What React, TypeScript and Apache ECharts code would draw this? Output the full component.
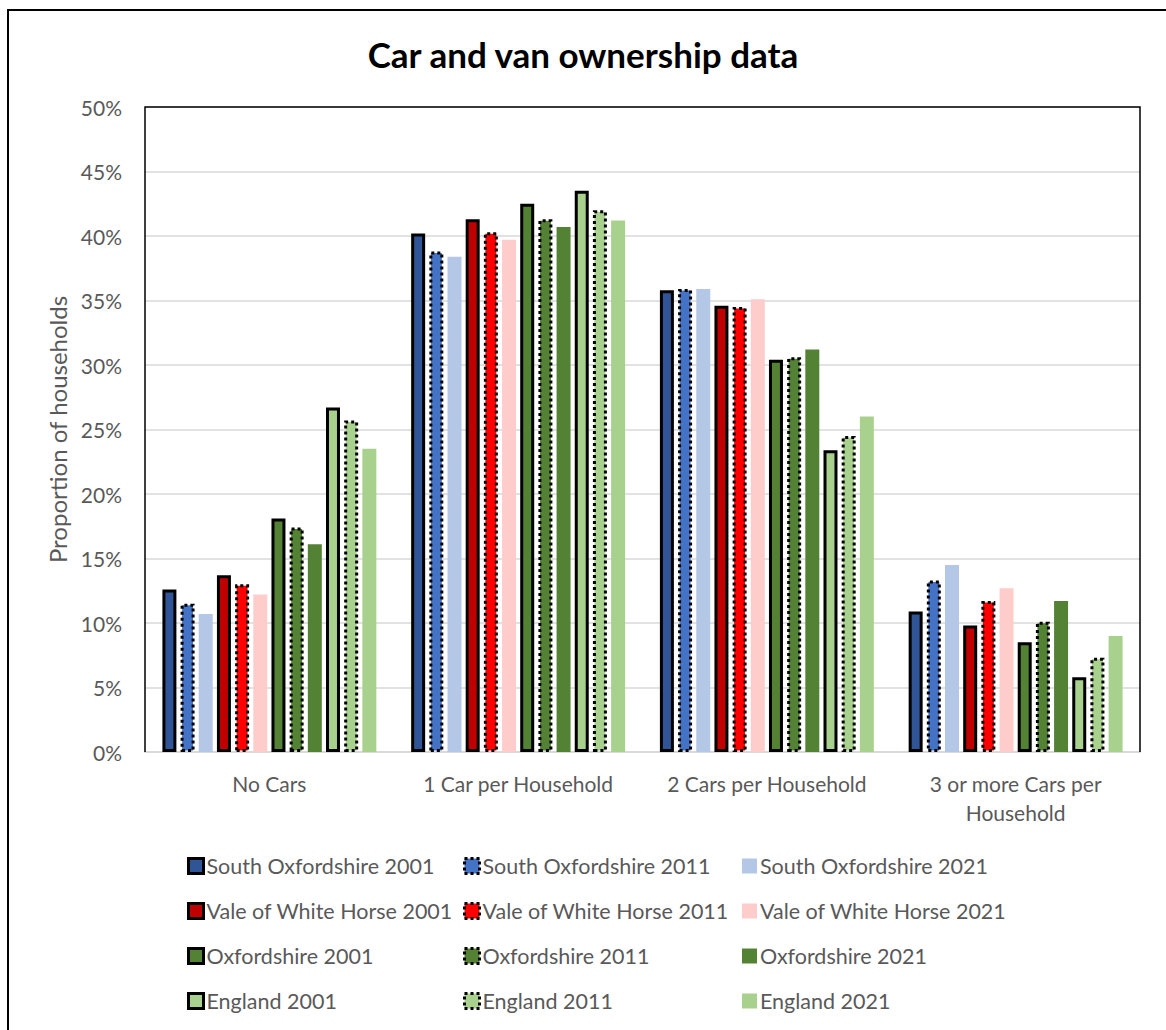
import React, { useEffect, useRef } from "react";
import * as echarts from "echarts";

const categories = [
  "No Cars",
  "1 Car per Household",
  "2 Cars per Household",
  "3 or more Cars per Household",
];

const southOx2001 = [12.6, 40.2, 35.8, 10.9];
const southOx2011 = [11.5, 38.8, 35.9, 13.3];
const southOx2021 = [10.7, 38.4, 35.9, 14.5];
const vale2001 = [13.7, 41.3, 34.6, 9.8];
const vale2011 = [13.0, 40.3, 34.5, 11.7];
const vale2021 = [12.2, 39.7, 35.1, 12.7];
const oxon2001 = [18.1, 42.5, 30.4, 8.5];
const oxon2011 = [17.4, 41.3, 30.6, 10.1];
const oxon2021 = [16.1, 40.7, 31.2, 11.7];
const england2001 = [26.7, 43.5, 23.4, 5.8];
const england2011 = [25.7, 42.0, 24.5, 7.3];
const england2021 = [23.5, 41.2, 26.0, 9.0];

const seriesNames = [
  "South Oxfordshire 2001", "South Oxfordshire 2011", "South Oxfordshire 2021",
  "Vale of White Horse 2001", "Vale of White Horse 2011", "Vale of White Horse 2021",
  "Oxfordshire 2001", "Oxfordshire 2011", "Oxfordshire 2021",
  "England 2001", "England 2011", "England 2021",
];
const seriesData = [
  southOx2001, southOx2011, southOx2021,
  vale2001, vale2011, vale2021,
  oxon2001, oxon2011, oxon2021,
  england2001, england2011, england2021,
];
const seriesColors = [
  "#2F5597", "#4472C4", "#B4C7E7",
  "#C00000", "#FF0000", "#FFCCCC",
  "#548235", "#548235", "#548235",
  "#A9D18E", "#A9D18E", "#A9D18E",
];

const FONT = "Lato";
const GREY = "#595959";

function styleFor(i: number) {
  const kind = i % 3; // 0 = 2001 solid, 1 = 2011 dotted, 2 = 2021 none
  if (kind === 0) {
    return { color: seriesColors[i], borderColor: "#000", borderWidth: 3, borderType: "solid" as const };
  }
  if (kind === 1) {
    return { color: seriesColors[i], borderColor: "#000", borderWidth: 3, borderType: [3, 3] as any, borderCap: "butt" as const };
  }
  return { color: seriesColors[i], borderWidth: 0 };
}

export default function App() {
  const ref = useRef<HTMLDivElement>(null);
  useEffect(() => {
    document.body.style.margin = "0";
    if (!ref.current) return;
    const chart = echarts.init(ref.current, null, { renderer: "svg" });

    const legendCols = [0, 1, 2].map((col) => ({
      orient: "vertical" as const,
      left: [182, 458, 737][col],
      top: 850,
      itemWidth: 15,
      itemHeight: 15,
      itemGap: 23,
      icon: "rect",
      textStyle: { fontFamily: FONT, fontSize: 21.5, color: GREY, lineHeight: 22, padding: [0, 0, 0, -2] },
      data: [0, 1, 2, 3].map((row) => {
        const idx = row * 3 + col;
        return { name: seriesNames[idx], icon: "rect", itemStyle: styleFor(idx) };
      }),
    }));

    chart.setOption({
      animation: false,
      backgroundColor: "#fff",
      title: {
        text: "Car and van ownership data",
        left: "center",
        top: 31,
        textStyle: { fontFamily: FONT, fontSize: 35, fontWeight: "bold", color: "#000" },
      },
      graphic: [
        {
          type: "polyline",
          shape: { points: [[8, 1030], [8, 10], [1166, 10]] },
          style: { stroke: "#000", lineWidth: 2, fill: "none" },
          silent: true,
        },
        {
          type: "polyline",
          shape: { points: [[145, 752], [145, 107], [1140, 107], [1140, 752]] },
          style: { stroke: "#000", lineWidth: 1.5, fill: "none" },
          silent: true,
          z: 100,
        },
      ],
      legend: legendCols,
      grid: {
        left: 145,
        right: 26,
        top: 107,
        bottom: 278,
      },
      xAxis: {
        type: "category",
        data: categories,
        axisLine: { show: true, lineStyle: { color: "#D9D9D9", width: 2 } },
        axisTick: { show: false },
        axisLabel: {
          fontFamily: FONT,
          fontSize: 21,
          color: GREY,
          margin: 17,
          lineHeight: 29,
          interval: 0,
          formatter: (v: string) => (v === "3 or more Cars per Household" ? "3 or more Cars per\nHousehold" : v),
        },
      },
      yAxis: {
        type: "value",
        min: 0,
        max: 50,
        interval: 5,
        name: "Proportion of households",
        nameLocation: "middle",
        nameGap: 74,
        nameTextStyle: { fontFamily: FONT, fontSize: 24, color: GREY },
        axisLine: { show: false },
        axisTick: { show: false },
        axisLabel: {
          fontFamily: FONT,
          fontSize: 21,
          color: GREY,
          margin: 23,
          formatter: "{value}%",
        },
        splitLine: { lineStyle: { color: "#D9D9D9", width: 1.5 } },
      },
      series: seriesNames.map((name, i) => ({
        name,
        type: "bar",
        data: seriesData[i],
        barGap: "30%",
        barCategoryGap: "14%",
        itemStyle: styleFor(i),
      })),
    });
    return () => chart.dispose();
  }, []);
  return <div ref={ref} style={{ width: 1166, height: 1030 }} />;
}
